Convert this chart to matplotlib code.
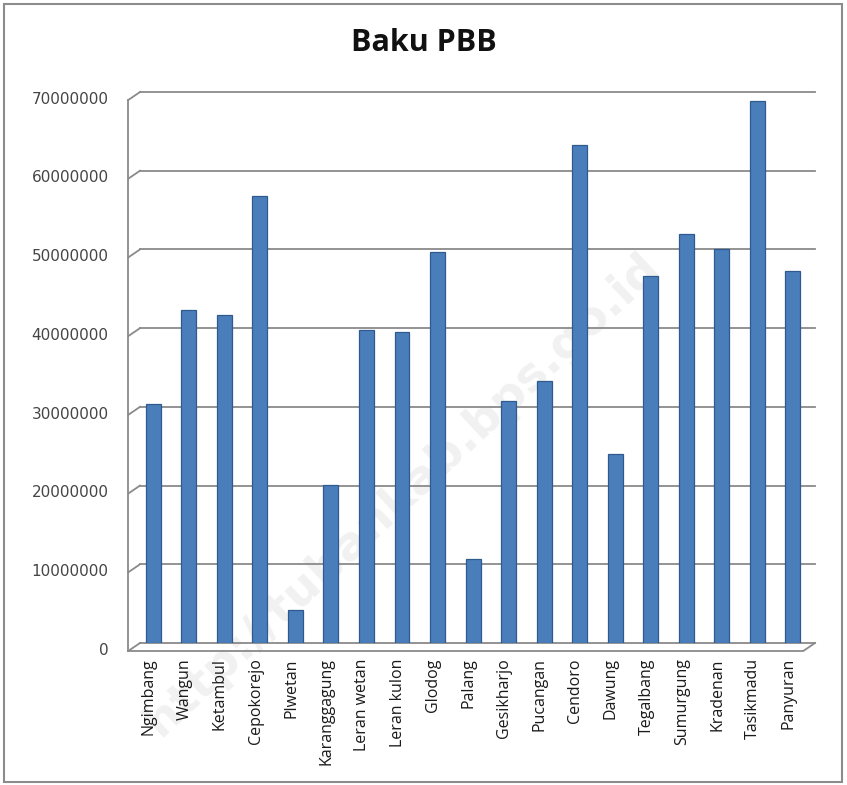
import numpy as np
import matplotlib
matplotlib.use('Agg')
import matplotlib.pyplot as plt
from matplotlib.patches import Rectangle

# data
desa = ['Ngimbang', 'Wangun', 'Ketambul', 'Cepokorejo', 'Plwetan', 'Karanggagung',
        'Leran wetan', 'Leran kulon', 'Glodog', 'Palang', 'Gesikharjo', 'Pucangan',
        'Cendoro', 'Dawung', 'Tegalbang', 'Sumurgung', 'Kradenan', 'Tasikmadu', 'Panyuran']
baku = [30300000, 42300000, 41700000, 56800000, 4200000, 20100000,
        39800000, 39500000, 49700000, 10700000, 30700000, 33300000,
        63300000, 24000000, 46600000, 51900000, 50000000, 68800000, 47200000]
yticks = [0, 10000000, 20000000, 30000000, 40000000, 50000000, 60000000, 70000000]
title = 'Baku PBB'
watermark = 'http://tubankab.bps.go.id'

W, H = 847, 785
fig = plt.figure(figsize=(W / 100, H / 100), dpi=100)
fig.patch.set_facecolor('white')

# outer frame of the chart area
fig.add_artist(Rectangle((4 / W, 3 / H), 838 / W, 778 / H, transform=fig.transFigure,
                         fill=False, edgecolor='#8c8c8c', lw=1.5))

ax = fig.add_axes([140 / W, (H - 643) / H, 675 / W, 551 / H])
ax.patch.set_visible(False)
x = np.arange(len(desa))
x0, x1 = -0.37, len(desa) - 1 + 0.62
ymax = yticks[-1]
ax.set_xlim(x0, x1)
ax.set_ylim(0, ymax)
for s in ax.spines.values():
    s.set_visible(False)
ax.set_xticks([])
ax.set_yticks([])

# fake 3d wall offsets (data units)
dx = 0.33
dy = ymax * 0.0145
grid_c = '#8a8a8a'

# faint watermark, behind everything
fig.text(0.475, 0.37, watermark, rotation=43, fontsize=34, fontweight='bold',
         color='#f1f1f1', ha='center', va='center', family='DejaVu Sans', zorder=-5)

for t in yticks:
    ax.plot([x0, x1], [t, t], color=grid_c, lw=1.3, clip_on=False, zorder=1)
    ax.plot([x0 - dx, x0], [t - dy, t], color=grid_c, lw=1.3, clip_on=False, zorder=1)
    ax.text(x0 - dx - 0.55, t - dy * 0.9, str(t), ha='right', va='center',
            fontsize=11, color='#454545', family='DejaVu Sans')

ax.plot([x0 - dx, x0 - dx], [-dy, ymax - dy], color=grid_c, lw=1.3, clip_on=False, zorder=1)
ax.plot([x0 - dx, x1 - dx, x1], [-dy, -dy, 0], color=grid_c, lw=1.3, clip_on=False, zorder=1)

ax.bar(x, baku, width=0.42, color='#4a7ebb', edgecolor='#2f5a8e', linewidth=0.9, zorder=3)

for i, name in enumerate(desa):
    ax.text(i - 0.12, -dy * 1.9, name, rotation=90, ha='center', va='top',
            fontsize=11.5, color='#1a1a1a', family='Open Sans')

fig.text(424 / W, 1 - 43 / H, title, ha='center', va='center', fontsize=22,
         fontweight='bold', color='#111111', family='Open Sans')

fig.savefig('out.png', dpi=100)
